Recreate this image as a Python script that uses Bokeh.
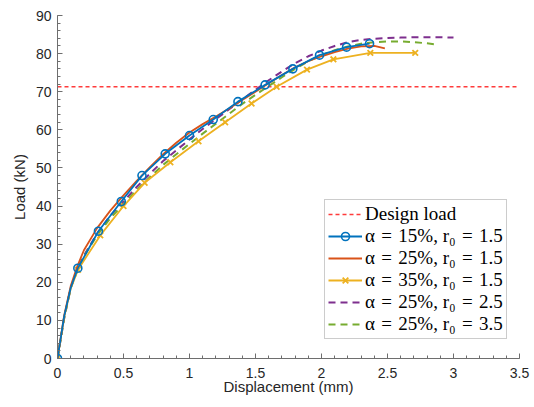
from bokeh.plotting import figure
from bokeh.models import Range1d, FixedTicker, CustomJSTickFormatter, Legend, LegendItem
from bokeh.embed import file_html
from bokeh.resources import INLINE

design_load = 71.3

blue_x = [0, 0.05, 0.1, 0.154, 0.31, 0.483, 0.64, 0.816, 1.0, 1.18, 1.367, 1.573, 1.783, 1.985, 2.19, 2.364]
blue_y = [0, 11.0, 18.5, 23.7, 33.4, 41.2, 48.0, 53.7, 58.5, 62.7, 67.4, 71.8, 76.0, 79.6, 81.7, 82.6]
blue_mx = [0, 0.154, 0.31, 0.483, 0.64, 0.816, 1.0, 1.18, 1.367, 1.573, 1.783, 1.985, 2.19, 2.364]
blue_my = [0, 23.7, 33.4, 41.2, 48.0, 53.7, 58.5, 62.7, 67.4, 71.8, 76.0, 79.6, 81.7, 82.6]

orange_x = [0, 0.05, 0.1, 0.15, 0.2, 0.3, 0.4, 0.5, 0.6, 0.7, 0.8, 0.9, 1.0, 1.1, 1.2, 1.3, 1.4, 1.5,
            1.6, 1.7, 1.8, 1.9, 2.0, 2.1, 2.2, 2.3, 2.4, 2.48]
orange_y = [0, 11.2, 19.0, 24.2, 28.4, 34.2, 38.8, 42.8, 46.6, 50.2, 53.6, 56.6, 59.3, 61.5, 63.5, 65.6,
            67.8, 70.0, 72.2, 74.4, 76.4, 78.0, 79.3, 80.4, 81.3, 81.9, 82.0, 81.4]

yellow_x = [0, 0.05, 0.1, 0.155, 0.324, 0.5, 0.66, 0.855, 1.068, 1.27, 1.47, 1.66, 1.89, 2.09, 2.37, 2.71]
yellow_y = [0, 10.8, 18.3, 23.3, 32.3, 40.0, 46.1, 51.5, 57.0, 62.0, 66.9, 71.3, 75.8, 78.5, 80.2, 80.2]
yellow_mx = [0, 0.155, 0.324, 0.5, 0.66, 0.855, 1.068, 1.27, 1.47, 1.66, 1.89, 2.09, 2.37, 2.71]
yellow_my = [0, 23.3, 32.3, 40.0, 46.1, 51.5, 57.0, 62.0, 66.9, 71.3, 75.8, 78.5, 80.2, 80.2]

purple_x = [0, 0.05, 0.1, 0.15, 0.2, 0.3, 0.4, 0.5, 0.6, 0.7, 0.8, 0.9, 1.0, 1.1, 1.2, 1.3, 1.4, 1.5,
            1.6, 1.7, 1.8, 1.9, 2.0, 2.1, 2.2, 2.3, 2.4, 2.5, 2.6, 2.7, 2.8, 2.9, 3.0]
purple_y = [0, 10.5, 18.5, 23.5, 27.0, 32.8, 37.5, 41.2, 45.0, 48.5, 51.8, 54.6, 57.5, 60.2, 62.8, 65.4,
            68.0, 70.5, 73.0, 75.3, 77.5, 79.3, 80.8, 82.0, 83.0, 83.6, 83.9, 84.1, 84.2, 84.3, 84.3, 84.3, 84.2]

green_x = [0, 0.05, 0.1, 0.15, 0.2, 0.3, 0.4, 0.5, 0.6, 0.7, 0.8, 0.9, 1.0, 1.1, 1.2, 1.3, 1.4, 1.5,
           1.6, 1.7, 1.8, 1.9, 2.0, 2.1, 2.2, 2.3, 2.4, 2.5, 2.6, 2.7, 2.8, 2.87]
green_y = [0, 10.5, 18.5, 23.0, 26.8, 32.3, 36.8, 40.5, 44.2, 47.6, 50.8, 53.6, 56.3, 59.0, 61.6, 64.2,
           66.8, 69.2, 71.5, 73.8, 76.0, 78.0, 79.6, 80.9, 81.9, 82.6, 83.0, 83.2, 83.2, 83.0, 82.7, 82.4]

x_ticks = [0, 0.5, 1, 1.5, 2, 2.5, 3, 3.5]
y_ticks = [0, 10, 20, 30, 40, 50, 60, 70, 80, 90]

SP = "\u2004"
labels = ["Design load",
          f"\u03b1{SP}={SP}15%, r\u2080{SP}={SP}1.5",
          f"\u03b1{SP}={SP}25%, r\u2080{SP}={SP}1.5",
          f"\u03b1{SP}={SP}35%, r\u2080{SP}={SP}1.5",
          f"\u03b1{SP}={SP}25%, r\u2080{SP}={SP}2.5",
          f"\u03b1{SP}={SP}25%, r\u2080{SP}={SP}3.5"]

BLUE = "#0072BD"
ORANGE = "#D95319"
YELLOW = "#EDB120"
PURPLE = "#7E2F8E"
GREEN = "#77AC30"
RED = "#FF3B3B"

p = figure(width=530, height=398, output_backend="svg", toolbar_location=None,
           x_range=Range1d(0, 3.5), y_range=Range1d(0, 90),
           min_border_left=57, min_border_right=11, min_border_top=15, min_border_bottom=40)
p.outline_line_color = None
p.grid.visible = False
p.background_fill_color = "white"
p.border_fill_color = "white"

fmt = CustomJSTickFormatter(code="return String(Math.round(tick*10)/10);")
p.xaxis.ticker = FixedTicker(ticks=x_ticks, minor_ticks=[i * 0.1 for i in range(36)])
p.yaxis.ticker = FixedTicker(ticks=y_ticks, minor_ticks=[i * 2 for i in range(46)])
p.xaxis.formatter = fmt
p.yaxis.formatter = fmt
for ax in (p.xaxis[0], p.yaxis[0]):
    ax.major_tick_in = 5
    ax.major_tick_out = 0
    ax.minor_tick_in = 3
    ax.minor_tick_out = 0
    ax.axis_line_color = "#6e6e6e"
    ax.major_tick_line_color = "#6e6e6e"
    ax.minor_tick_line_color = "#6e6e6e"
    ax.major_label_text_font = "Liberation Sans"
    ax.major_label_text_font_size = "14px"
    ax.major_label_text_color = "#262626"
    ax.axis_label_text_font = "Liberation Sans"
    ax.axis_label_text_font_size = "15px"
    ax.axis_label_text_font_style = "normal"
    ax.axis_label_text_color = "#262626"
p.xaxis.axis_label = "Displacement (mm)"
p.yaxis.axis_label = "Load (kN)"
p.xaxis.major_label_standoff = 9
p.yaxis.major_label_standoff = 6
p.xaxis.axis_label_standoff = -3
p.yaxis.axis_label_standoff = 5

r_design = p.line([0, 3.5], [design_load, design_load], line_color=RED, line_width=1.3, line_dash="4 3")

r_purple = p.line(purple_x, purple_y, line_color=PURPLE, line_width=2, line_dash="7 5")
r_green = p.line(green_x, green_y, line_color=GREEN, line_width=2, line_dash="7 5")
r_yellow = p.line(yellow_x, yellow_y, line_color=YELLOW, line_width=1.8)
r_yellow_m = p.scatter(yellow_mx, yellow_my, marker="x", size=8, line_color=YELLOW, line_width=1.8)
r_orange = p.line(orange_x, orange_y, line_color=ORANGE, line_width=1.8)
r_blue = p.line(blue_x, blue_y, line_color=BLUE, line_width=1.8)
r_blue_m = p.scatter(blue_mx, blue_my, marker="circle", size=8, fill_color=None, line_color=BLUE, line_width=1.6)

items = [LegendItem(label=labels[0], renderers=[r_design]),
         LegendItem(label=labels[1], renderers=[r_blue, r_blue_m]),
         LegendItem(label=labels[2], renderers=[r_orange]),
         LegendItem(label=labels[3], renderers=[r_yellow, r_yellow_m]),
         LegendItem(label=labels[4], renderers=[r_purple]),
         LegendItem(label=labels[5], renderers=[r_green])]
legend = Legend(items=items, location=(267, 19))
legend.label_text_font = "Liberation Serif"
legend.label_text_font_size = "19px"
legend.label_text_color = "#000000"
legend.glyph_width = 34
legend.glyph_height = 20
legend.label_height = 20
legend.spacing = 0
legend.label_standoff = 3
legend.padding = 3
legend.margin = 0
legend.border_line_color = "#9a9a9a"
legend.border_line_width = 1
legend.background_fill_color = "white"
legend.background_fill_alpha = 1
p.add_layout(legend, "center")

open("out.html", "w").write(file_html(p, INLINE))
